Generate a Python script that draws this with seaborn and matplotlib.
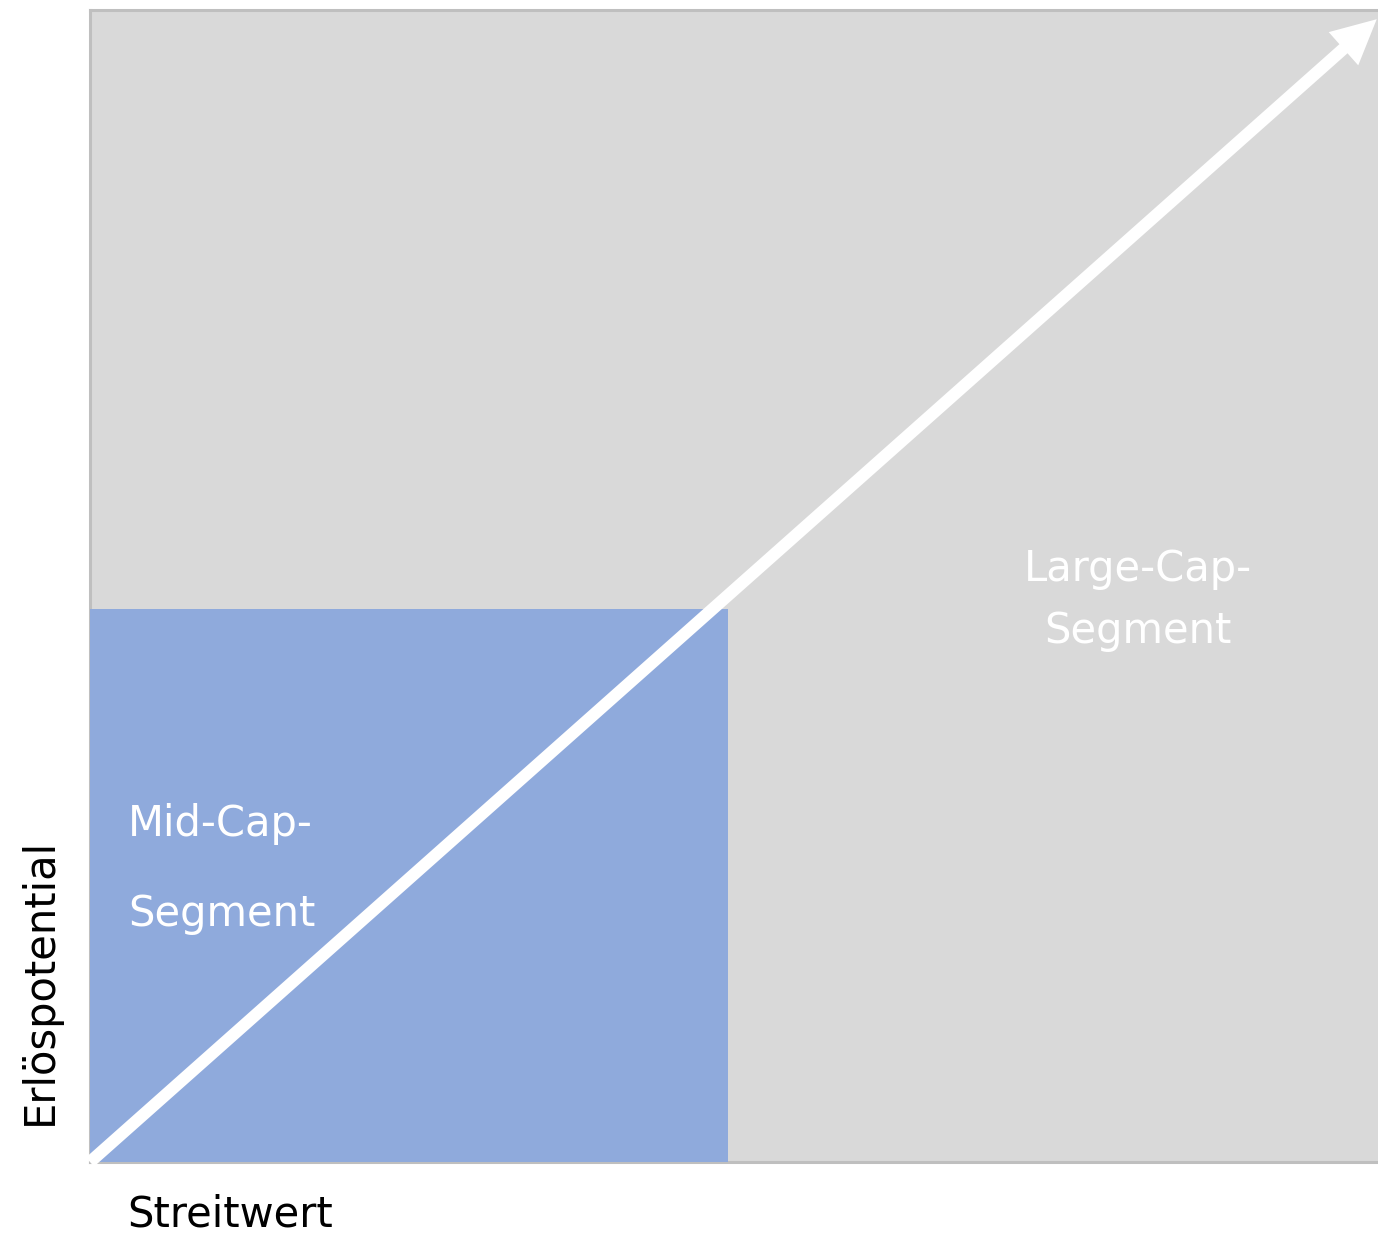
"""Mid-Cap vs. Large-Cap segment diagram (Streitwert / Erlöspotential)."""
import matplotlib

matplotlib.use("Agg")
import matplotlib.pyplot as plt
import seaborn as sns

# --- data (axes run 0..1 on both dimensions) ---
segments = ["Mid-Cap-\nSegment", "Large-Cap-\nSegment"]
mid_cap_streitwert = 0.495  # right edge of the mid-cap block
mid_cap_erloes = 0.48  # top edge of the mid-cap block
trend_x = [0.0, 0.999]
trend_y = [0.0, 0.992]
x_label = "Streitwert"
y_label = "Erlöspotential"

grey = "#d9d9d9"
blue = "#8faadc"
edge = "#bfbfbf"

sns.set_theme(style="white")
plt.rcParams["font.family"] = ["DejaVu Sans"]

fig = plt.figure(figsize=(13.78, 12.37), dpi=100)
ax = fig.add_axes([90 / 1378, 1 - 1162 / 1237, 1300 / 1378, 1152 / 1237])
ax.set_xlim(0, 1300 / 1288)
ax.set_ylim(0, 1)
ax.set_facecolor(grey)

# mid-cap block
ax.bar(0, mid_cap_erloes, width=mid_cap_streitwert, align="edge",
       color=blue, linewidth=0, zorder=3, clip_on=False)

# white trend arrow
ax.annotate(
    "",
    xy=(trend_x[1], trend_y[1]),
    xytext=(trend_x[0], trend_y[0]),
    arrowprops=dict(
        arrowstyle="simple,head_length=0.8,head_width=0.8,tail_width=0.22",
        mutation_scale=40,
        lw=0,
        color="white",
        shrinkA=0,
        shrinkB=0,
    ),
    zorder=4,
    annotation_clip=False,
)

# segment labels
ax.text(0.0295, 0.254, segments[0], color="white", fontsize=30,
        ha="left", va="center", linespacing=2.45, zorder=5)
ax.text(0.814, 0.488, segments[1], color="white", fontsize=30,
        ha="center", va="center", linespacing=1.62, zorder=5)

# axis titles
ax.text(0.029, -0.046, x_label, fontsize=30, color="black",
        ha="left", va="center", clip_on=False)
ax.text(-0.0388, 0.157, y_label, fontsize=30, color="black", rotation=90,
        ha="center", va="center", clip_on=False)

ax.set_xticks([])
ax.set_yticks([])
for side in ["left", "top", "bottom"]:
    ax.spines[side].set_color(edge)
    ax.spines[side].set_linewidth(2.2)
ax.spines["right"].set_visible(False)

fig.savefig("out.png", dpi=100, facecolor="white")
